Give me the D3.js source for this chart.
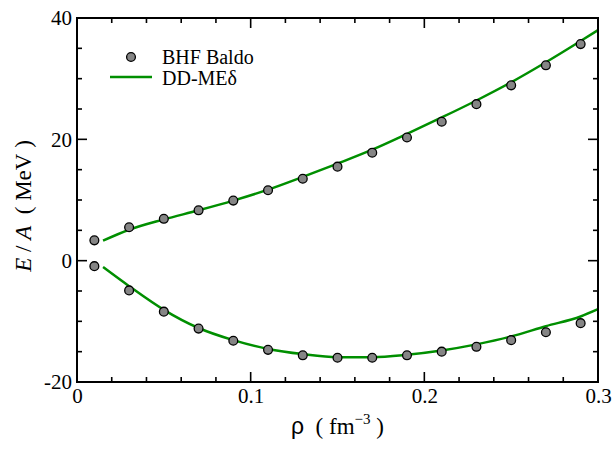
<html>
<head>
<meta charset="utf-8">
<script src="https://cdn.jsdelivr.net/npm/d3@7"></script>
</head>
<body style="margin:0">
<svg id="chart" width="614" height="449"></svg>
<script>
// ---- data ----
const rhoBHF = [0.01,0.03,0.05,0.07,0.09,0.11,0.13,0.15,0.17,0.19,0.21,0.23,0.25,0.27,0.29];
const bhfNeutron = [3.35,5.5,6.9,8.3,9.9,11.6,13.5,15.5,17.8,20.3,22.9,25.8,28.9,32.2,35.7];
const bhfSymmetric = [-0.9,-4.9,-8.4,-11.2,-13.2,-14.7,-15.6,-16.0,-16.0,-15.6,-15.0,-14.2,-13.1,-11.8,-10.3];
const rhoDD = [0.015,0.03,0.05,0.07,0.09,0.11,0.13,0.15,0.17,0.19,0.21,0.23,0.25,0.27,0.29,0.30];
const ddNeutron = [3.3,5.1,6.8,8.3,9.9,11.7,13.8,16.0,18.3,20.9,23.6,26.4,29.4,32.7,36.2,38.0];
const ddSymmetric = [-1.05,-4.2,-8.1,-11.1,-13.1,-14.55,-15.4,-15.9,-15.9,-15.5,-14.8,-13.8,-12.5,-10.8,-9.2,-8.0];
const xTicks = [0, 0.1, 0.2, 0.3];
const xTickLabels = ["0", "0.1", "0.2", "0.3"];
const yTicks = [-20, 0, 20, 40];
const yTickLabels = ["-20", "0", "20", "40"];
const legendLabels = ["BHF Baldo", "DD-MEδ"];

// ---- layout ----
const svg = d3.select("#chart");
const L = 77, R = 598, T = 18, B = 382;
const x = d3.scaleLinear().domain([0, 0.3]).range([L, R]);
const y = d3.scaleLinear().domain([-20, 40]).range([B, T]);
const green = "#008f00";
const SERIF = "Liberation Serif";
const SANS = "Liberation Sans";

// minor / major ticks (inward, all four sides)
const xMinor = d3.range(0, 0.3001, 0.02);
const yMinor = d3.range(-20, 40.001, 5);
const tg = svg.append("g").attr("stroke", "#000").attr("stroke-width", 1.6);
xMinor.forEach(v => {
  const major = xTicks.some(t => Math.abs(t - v) < 1e-9);
  const len = major ? 10 : 5;
  tg.append("line").attr("x1", x(v)).attr("x2", x(v)).attr("y1", B).attr("y2", B - len);
  tg.append("line").attr("x1", x(v)).attr("x2", x(v)).attr("y1", T).attr("y2", T + len);
});
yMinor.forEach(v => {
  const major = yTicks.some(t => Math.abs(t - v) < 1e-9);
  const len = major ? 10 : 5;
  tg.append("line").attr("y1", y(v)).attr("y2", y(v)).attr("x1", L).attr("x2", L + len);
  tg.append("line").attr("y1", y(v)).attr("y2", y(v)).attr("x1", R).attr("x2", R - len);
});

// tick labels
const xAxis = d3.axisBottom(x).tickValues(xTicks).tickSize(0).tickPadding(6)
  .tickFormat((d, i) => xTickLabels[i]);
const gx = svg.append("g").attr("transform", `translate(0,${B})`).call(xAxis)
  .attr("font-family", SERIF).attr("font-size", 21);
gx.select(".domain").remove();
gx.selectAll("text").attr("font-family", SERIF).attr("font-size", 21).attr("fill", "#000");

const yAxis = d3.axisLeft(y).tickValues(yTicks).tickSize(0).tickPadding(5)
  .tickFormat((d, i) => yTickLabels[i]);
const gy = svg.append("g").attr("transform", `translate(${L},0)`).call(yAxis)
  .attr("font-family", SERIF).attr("font-size", 21);
gy.select(".domain").remove();
gy.selectAll("text").attr("font-family", SERIF).attr("font-size", 21).attr("fill", "#000");

// curves
const line = d3.line().curve(d3.curveMonotoneX);
[ddNeutron, ddSymmetric].forEach(vals => {
  svg.append("path")
    .attr("d", line(rhoDD.map((r, i) => [x(r), y(vals[i])])))
    .attr("fill", "none").attr("stroke", green).attr("stroke-width", 2.5);
});

// BHF points
[bhfNeutron, bhfSymmetric].forEach(vals => {
  svg.append("g").selectAll("circle").data(rhoBHF).join("circle")
    .attr("cx", d => x(d)).attr("cy", (d, i) => y(vals[i])).attr("r", 4.4)
    .attr("fill", "#858585").attr("stroke", "#000").attr("stroke-width", 1.3);
});

// frame
svg.append("rect").attr("x", L).attr("y", T).attr("width", R - L).attr("height", B - T)
  .attr("fill", "none").attr("stroke", "#000").attr("stroke-width", 2);

// legend
svg.append("circle").attr("cx", 131).attr("cy", 57).attr("r", 4.4)
  .attr("fill", "#858585").attr("stroke", "#000").attr("stroke-width", 1.3);
svg.append("text").attr("x", 162).attr("y", 63.5).text(legendLabels[0])
  .attr("font-family", SERIF).attr("font-size", 20);
svg.append("line").attr("x1", 110).attr("x2", 152).attr("y1", 77).attr("y2", 77)
  .attr("stroke", green).attr("stroke-width", 2.5);
svg.append("text").attr("x", 162).attr("y", 85).text(legendLabels[1])
  .attr("font-family", SERIF).attr("font-size", 20);

// axis titles
const xt = svg.append("text").attr("x", (L + R) / 2).attr("y", 434)
  .attr("text-anchor", "middle").attr("font-family", SERIF).attr("font-size", 23);
xt.append("tspan").attr("font-family", SANS).attr("font-size", 23).text("ρ");
xt.append("tspan").text("\u00a0\u00a0( fm");
xt.append("tspan").attr("font-size", 15).attr("dy", -10).text("−3");
xt.append("tspan").attr("dy", 10).text("\u00a0)");

const yt = svg.append("text").attr("transform", `translate(31,${(T + B) / 2 + 6}) rotate(-90)`)
  .attr("text-anchor", "middle").attr("font-family", SERIF).attr("font-size", 23);
yt.append("tspan").attr("font-style", "italic").text("E");
yt.append("tspan").text("\u00a0/\u00a0");
yt.append("tspan").attr("font-style", "italic").text("A");
yt.append("tspan").text("\u00a0\u00a0(\u00a0MeV\u00a0)");
</script>
</body>
</html>
